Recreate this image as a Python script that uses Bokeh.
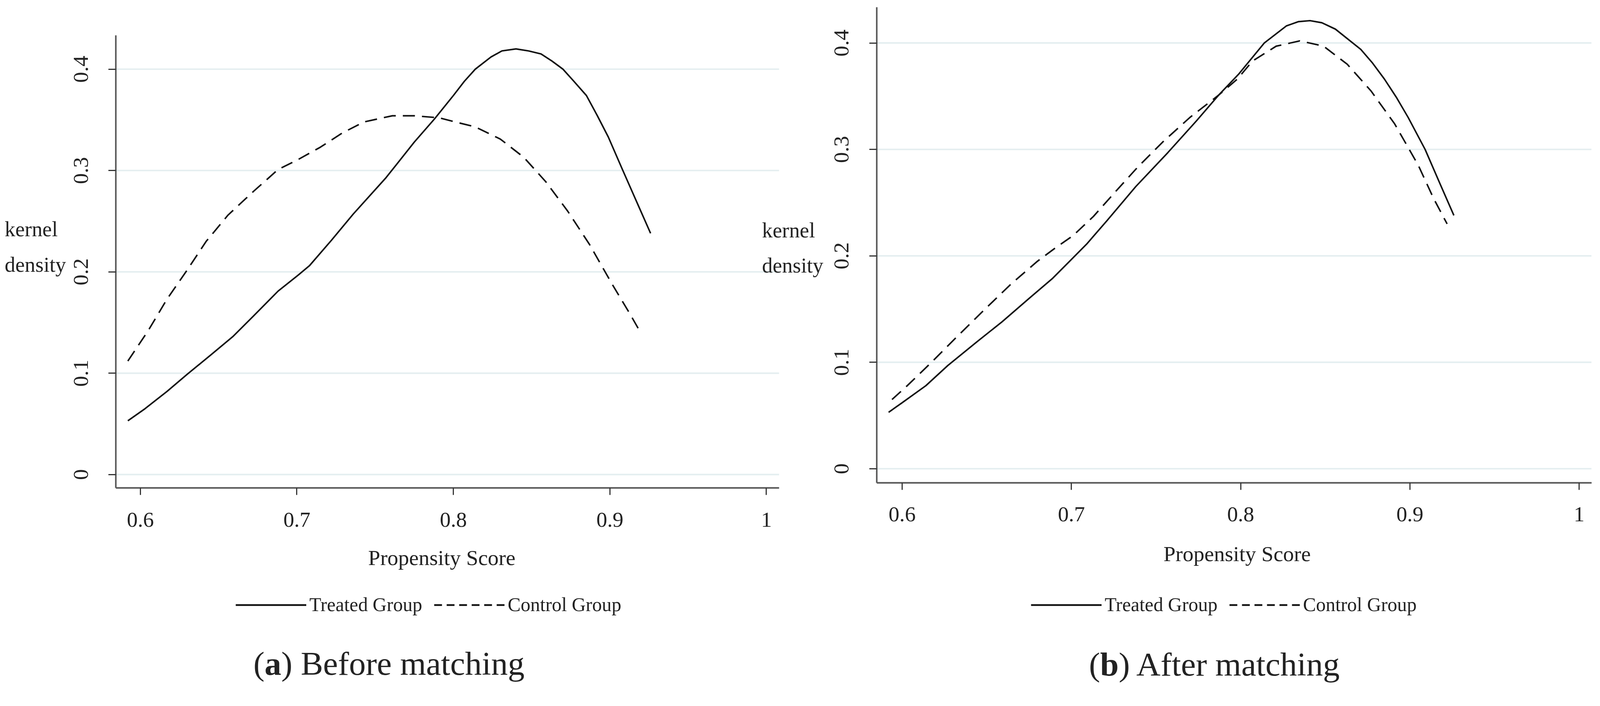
import numpy as np
from bokeh.plotting import figure
from bokeh.models import Range1d, FixedTicker, Label, Legend, LegendItem
from bokeh.core.properties import value
from bokeh.layouts import row
from bokeh.embed import file_html
from bokeh.resources import INLINE

# ---------------- data ----------------
x_ticks = [0.6, 0.7, 0.8, 0.9, 1.0]
x_tick_labels = ["0.6", "0.7", "0.8", "0.9", "1"]
y_ticks = [0.0, 0.1, 0.2, 0.3, 0.4]
y_tick_labels = ["0", "0.1", "0.2", "0.3", "0.4"]

series_names = ["Treated Group", "Control Group"]
x_title = "Propensity Score"
y_title_lines = ["kernel", "density"]
caption_letters = ["a", "b"]
caption_texts = [") Before matching", ") After matching"]

before_treated_x = [0.592, 0.603, 0.617, 0.630, 0.645, 0.659, 0.672, 0.688, 0.701, 0.708,
                    0.722, 0.736, 0.757, 0.775, 0.788, 0.800, 0.807, 0.814, 0.824, 0.831,
                    0.840, 0.848, 0.856, 0.863, 0.870, 0.877, 0.885, 0.892, 0.899, 0.908,
                    0.918, 0.926]
before_treated_y = [0.053, 0.065, 0.082, 0.099, 0.118, 0.136, 0.156, 0.181, 0.197, 0.206,
                    0.231, 0.257, 0.293, 0.328, 0.351, 0.374, 0.388, 0.400, 0.412, 0.418,
                    0.420, 0.418, 0.415, 0.408, 0.400, 0.388, 0.374, 0.354, 0.333, 0.301,
                    0.266, 0.238]

before_control_x = [0.592, 0.605, 0.617, 0.630, 0.642, 0.656, 0.672, 0.688, 0.701, 0.715,
                    0.729, 0.743, 0.761, 0.775, 0.791, 0.801, 0.814, 0.830, 0.845, 0.859,
                    0.873, 0.887, 0.901, 0.913, 0.920]
before_control_y = [0.112, 0.142, 0.173, 0.202, 0.230, 0.256, 0.279, 0.301, 0.311, 0.323,
                    0.337, 0.348, 0.354, 0.354, 0.352, 0.348, 0.343, 0.331, 0.313, 0.289,
                    0.260, 0.227, 0.189, 0.158, 0.139]

after_treated_x = [0.592, 0.600, 0.614, 0.627, 0.644, 0.659, 0.675, 0.689, 0.699, 0.709,
                   0.721, 0.738, 0.757, 0.774, 0.787, 0.799, 0.814, 0.827, 0.834, 0.841,
                   0.848, 0.856, 0.871, 0.878, 0.885, 0.892, 0.899, 0.909, 0.918, 0.926]
after_treated_y = [0.053, 0.062, 0.078, 0.097, 0.119, 0.138, 0.160, 0.179, 0.195, 0.211,
                   0.233, 0.265, 0.297, 0.327, 0.351, 0.371, 0.400, 0.416, 0.420, 0.421,
                   0.419, 0.413, 0.394, 0.381, 0.366, 0.349, 0.330, 0.300, 0.267, 0.238]

after_control_x = [0.594, 0.603, 0.618, 0.633, 0.649, 0.664, 0.680, 0.691, 0.701, 0.713,
                   0.727, 0.739, 0.754, 0.770, 0.787, 0.798, 0.807, 0.821, 0.835, 0.849,
                   0.863, 0.877, 0.891, 0.905, 0.914, 0.922]
after_control_y = [0.065, 0.078, 0.101, 0.125, 0.150, 0.173, 0.195, 0.208, 0.219, 0.237,
                   0.262, 0.283, 0.307, 0.330, 0.351, 0.366, 0.383, 0.397, 0.402, 0.397,
                   0.380, 0.355, 0.324, 0.285, 0.254, 0.230]

# ---------------- layout / style ----------------
FONT = "Liberation Serif"
TEXT_COLOR = "#222222"
LINE_COLOR = "#111111"
K = 1 / 1.0285          # page (css) px per photographed px
SHIFT_X, SHIFT_Y = -5, -9   # where the page origin lands in the photograph
MARGIN = 8
FIG_H = 1748            # css px
LEFT_W = 2113           # css px
RIGHT_W = 1971          # css px
BASELINE_FIX = 0.3      # label baseline correction (fraction of font size)

# geometry in photographed px: axes box and the data range of that box
LEFT = dict(css_x=MARGIN, width=LEFT_W, box=(308, 92, 2054, 1284),
            xr=(0.5844, 1.0081), yr=(-0.01326, 0.4333))
RIGHT = dict(css_x=MARGIN + LEFT_W, width=RIGHT_W, box=(2311, 18, 4193, 1270),
             xr=(0.58496, 1.0073), yr=(-0.0131, 0.4335))

for g in (LEFT, RIGHT):
    g["left_t"] = g["css_x"] / K + SHIFT_X
    g["right_t"] = (g["css_x"] + g["width"]) / K + SHIFT_X
    g["top_t"] = MARGIN / K + SHIFT_Y
    g["bottom_t"] = (MARGIN + FIG_H) / K + SHIFT_Y


def px(v):
    return v * K


def to_data(g, tx, ty):
    bx0, by0, bx1, by1 = g["box"]
    x = g["xr"][0] + (tx - bx0) / (bx1 - bx0) * (g["xr"][1] - g["xr"][0])
    y = g["yr"][0] + (by1 - ty) / (by1 - by0) * (g["yr"][1] - g["yr"][0])
    return x, y


def add_text(p, g, tx, ty, text, size, align="left", style="normal"):
    x, y = to_data(g, tx, ty - BASELINE_FIX * size)
    p.add_layout(Label(x=x, y=y, text=text, text_font=FONT,
                       text_font_size=f"{px(size):.1f}px",
                       text_color=TEXT_COLOR, text_align=align, text_baseline="alphabetic",
                       text_font_style=style))


def make_panel(g, tx, ty, cx, cy):
    x_start, y_start = to_data(g, g["left_t"], g["bottom_t"])
    x_end, y_end = to_data(g, g["right_t"], g["top_t"])
    p = figure(width=g["width"], height=FIG_H,
               x_range=Range1d(x_start, x_end), y_range=Range1d(y_start, y_end),
               output_backend="svg", toolbar_location=None, tools="",
               min_border=0)
    p.title.visible = False
    p.outline_line_color = None
    p.background_fill_color = "white"
    p.border_fill_color = "white"
    p.xgrid.visible = False
    p.ygrid.visible = False

    xa = p.xaxis[0]
    xa.ticker = FixedTicker(ticks=x_ticks)
    xa.major_label_overrides = dict(zip(x_ticks, x_tick_labels))
    xa.fixed_location = g["yr"][0]
    xa.bounds = g["xr"]
    ya = p.yaxis[0]
    ya.ticker = FixedTicker(ticks=y_ticks)
    ya.major_label_overrides = dict(zip(y_ticks, y_tick_labels))
    ya.major_label_orientation = "vertical"
    ya.fixed_location = g["xr"][0]
    ya.bounds = g["yr"]
    for ax, out, stand in ((xa, 18, 46), (ya, 20, 55)):
        ax.axis_line_color = "#555555"
        ax.axis_line_width = px(4)
        ax.major_tick_line_color = "#333333"
        ax.major_tick_line_width = px(3)
        ax.major_tick_out = round(px(out))
        ax.major_tick_in = 0
        ax.minor_tick_line_color = None
        ax.major_label_text_font = FONT
        ax.major_label_text_font_size = f"{px(57):.1f}px"
        ax.major_label_text_color = TEXT_COLOR
        ax.major_label_standoff = round(px(stand))

    # horizontal grid lines at the y ticks, across the axes box
    n = len(y_ticks)
    p.segment(x0=[g["xr"][0]] * n, y0=y_ticks, x1=[g["xr"][1]] * n, y1=y_ticks,
              line_color="#e4eef0", line_width=px(4), level="underlay")

    p.line(tx, ty, line_color=LINE_COLOR, line_width=px(4))
    p.line(cx, cy, line_color=LINE_COLOR, line_width=px(4), line_dash="31 18")

    # legend samples (no visible marks in the plot)
    nan2 = np.array([np.nan, np.nan])
    r1 = p.line(nan2, nan2, line_color=LINE_COLOR, line_width=px(4.5))
    r2 = p.line(nan2, nan2, line_color=LINE_COLOR, line_width=px(4.5), line_dash="20 12")
    return p, r1, r2


def add_legend(p, g, r1, r2, start_t, center_t):
    h_t = 56
    legend = Legend(items=[LegendItem(label=value(series_names[0]), renderers=[r1]),
                           LegendItem(label=value(series_names[1]), renderers=[r2])],
                    orientation="horizontal",
                    location=(round(px(start_t - g["left_t"])),
                              round(px(g["bottom_t"] - (center_t + h_t / 2)))),
                    glyph_width=round(px(186)), glyph_height=round(px(h_t)),
                    label_height=round(px(h_t)),
                    label_standoff=round(px(8)), spacing=round(px(31)), padding=0, margin=0,
                    border_line_color=None, background_fill_alpha=0,
                    label_text_font=FONT, label_text_font_size=f"{px(51):.1f}px",
                    label_text_color=TEXT_COLOR)
    p.add_layout(legend)


def add_caption(p, g, start_t, baseline_t, idx):
    size = 88
    add_text(p, g, start_t, baseline_t, "(", size)
    add_text(p, g, start_t + 0.333 * size, baseline_t, caption_letters[idx], size, style="bold")
    bw = 0.5 if caption_letters[idx] == "a" else 0.556
    add_text(p, g, start_t + (0.333 + bw) * size, baseline_t, caption_texts[idx], size)


# ----- left panel: before matching -----
p1, l1, l2 = make_panel(LEFT, before_treated_x, before_treated_y, before_control_x, before_control_y)
add_text(p1, LEFT, 15, 619, y_title_lines[0], 56)
add_text(p1, LEFT, 15, 713, y_title_lines[1], 56)
add_text(p1, LEFT, 1166, 1485, x_title, 57, align="center")
add_legend(p1, LEFT, l1, l2, 623, 1593)
add_caption(p1, LEFT, 670, 1773, 0)
# y title of the right panel (it overlaps the left panel's area)
add_text(p1, LEFT, 2009, 622, y_title_lines[0], 56)
add_text(p1, LEFT, 2009, 715, y_title_lines[1], 56)

# ----- right panel: after matching -----
p2, m1, m2 = make_panel(RIGHT, after_treated_x, after_treated_y, after_control_x, after_control_y)
add_text(p2, RIGHT, 3260, 1475, x_title, 57, align="center")
add_legend(p2, RIGHT, m1, m2, 2717, 1593)
add_caption(p2, RIGHT, 2870, 1775, 1)

layout = row(p1, p2, spacing=0)
open("out.html", "w").write(file_html(layout, INLINE))
